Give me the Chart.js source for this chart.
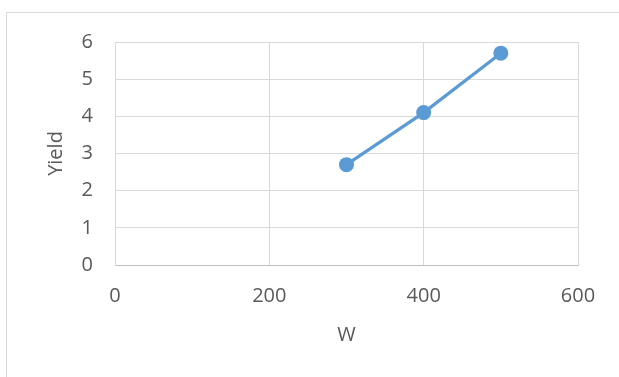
<!DOCTYPE html>
<html>
<head>
<meta charset="utf-8">
<script src="https://cdn.jsdelivr.net/npm/chart.js@4"></script>
<style>
  html, body { margin: 0; padding: 0; background: #ffffff; overflow: hidden; }
  #wrap { position: relative; width: 619px; height: 377px; overflow: hidden; }
  #frame { position: absolute; left: 6px; top: 12px; width: 700px; height: 500px;
           border: 1px solid #d9d9d9; box-sizing: border-box; }
  #chart { position: absolute; left: 0; top: 0; }
</style>
</head>
<body>
<div id="wrap">
  <div id="frame"></div>
  <canvas id="chart" width="619" height="377"></canvas>
</div>
<script>
// Yield measured against W
const wValues = [300, 400, 500];
const yieldValues = [2.7, 4.1, 5.7];
const xTitle = 'W';
const yTitle = 'Yield';
const xMin = 0, xMax = 600, xStep = 200;
const yMin = 0, yMax = 6, yStep = 1;

const points = wValues.map((w, i) => ({ x: w, y: yieldValues[i] }));

const textColor = '#595959';
const gridColor = '#d9d9d9';
const seriesColor = '#5b9bd5';
const fontFamily = "'Open Sans', 'Noto Sans', sans-serif";

new Chart(document.getElementById('chart'), {
  type: 'scatter',
  data: {
    datasets: [{
      label: yTitle,
      data: points,
      showLine: true,
      borderColor: seriesColor,
      backgroundColor: seriesColor,
      borderWidth: 3.2,
      pointRadius: 7.5,
      pointBorderWidth: 0,
      pointBackgroundColor: seriesColor,
      tension: 0
    }]
  },
  options: {
    responsive: false,
    devicePixelRatio: 1,
    animation: false,
    layout: { padding: { top: 42, left: 0, right: 41, bottom: 0 } },
    plugins: { legend: { display: false }, tooltip: { enabled: false } },
    scales: {
      x: {
        type: 'linear',
        min: xMin, max: xMax,
        ticks: { stepSize: xStep, color: textColor, padding: 19,
                 font: { family: fontFamily, size: 20 } },
        grid: { color: gridColor, lineWidth: 1, drawTicks: false },
        border: { color: '#bfbfbf', width: 1 },
        title: { display: true, text: xTitle, color: textColor,
                 font: { family: fontFamily, size: 20 }, padding: { top: 0, bottom: 30 } },
        afterFit: (scale) => { scale.height = 112; }
      },
      y: {
        type: 'linear',
        min: yMin, max: yMax,
        ticks: { stepSize: yStep, color: textColor, padding: 22,
                 font: { family: fontFamily, size: 20 } },
        grid: { color: gridColor, lineWidth: 1, drawTicks: false },
        border: { color: gridColor, width: 1 },
        title: { display: true, text: yTitle, color: textColor,
                 font: { family: fontFamily, size: 20 }, padding: { top: 44, bottom: 0 } },
        afterFit: (scale) => { scale.width = 115; }
      }
    }
  }
});
</script>
</body>
</html>
